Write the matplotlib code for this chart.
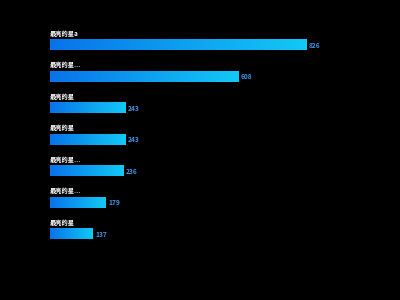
import numpy as np
import matplotlib.pyplot as plt
from matplotlib.colors import LinearSegmentedColormap

plt.rcParams['font.family'] = ['Noto Sans CJK SC', 'DejaVu Sans']

labels = ['最亮的星a', '最亮的星...', '最亮的星', '最亮的星', '最亮的星...', '最亮的星...', '最亮的星']
values = [826, 608, 243, 243, 236, 179, 137]

cmap = LinearSegmentedColormap.from_list('bar', ['#0873ea', '#12c9f6'])
grad = np.linspace(0, 1, 256).reshape(1, -1)

fig = plt.figure(figsize=(4, 3), dpi=100, facecolor='black')
ax = fig.add_axes([50 / 400, 0.1675, 310 / 400, 0.735])
ax.set_facecolor('black')

h = 0.32
for i, (lab, v) in enumerate(zip(labels, values)):
    ax.imshow(grad, cmap=cmap, aspect='auto', interpolation='bilinear',
              extent=[0, v, i + h / 2, i - h / 2], zorder=2)
    ax.text(v + 8, i, str(v), color='#3f95e6', fontsize=4.8, va='center', ha='left',
            fontweight='bold')
    ax.text(0, i - 0.37, lab, color='white', fontsize=4.5, va='center', ha='left',
            fontweight='bold')

ax.set_xlim(0, 1000)
ax.set_ylim(6.5, -0.5)
ax.axis('off')

fig.savefig('out.png', dpi=100, facecolor='black')
